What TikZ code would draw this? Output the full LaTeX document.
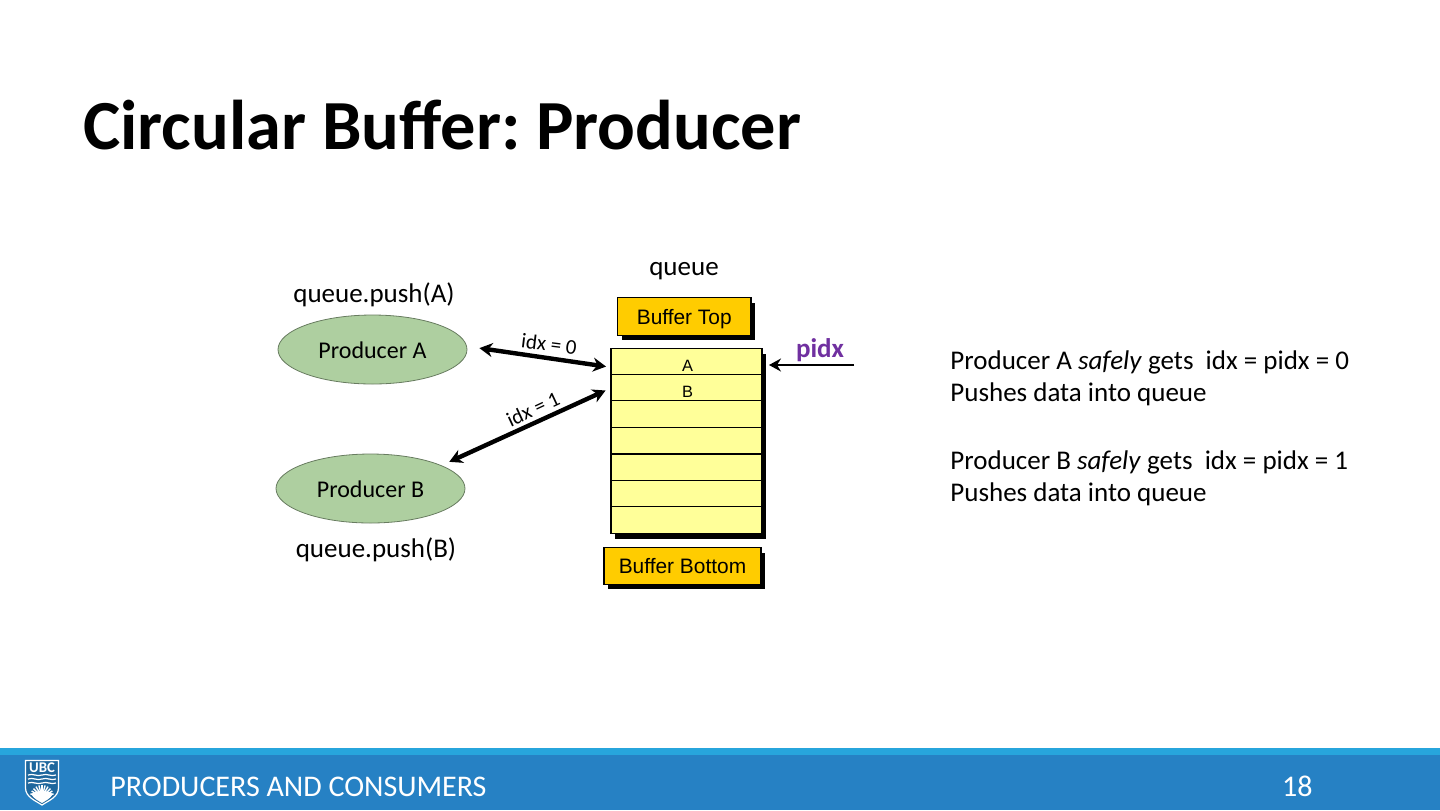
\documentclass[tikz,border=0pt]{standalone}
\usepackage{fontspec}
\setmainfont{Carlito}
\newfontfamily\arialfont{Liberation Sans}
\usetikzlibrary{positioning,arrows.meta,fit,backgrounds,calc,shadows,shapes.geometric}
\definecolor{ubcblue}{HTML}{2681C4}
\definecolor{ubclight}{HTML}{27A5DC}
\definecolor{prodgreen}{HTML}{AECFA0}
\definecolor{celly}{HTML}{FFFF99}
\definecolor{gold}{HTML}{FFCC00}
\definecolor{pidxc}{HTML}{7030A0}
\frenchspacing
\begin{document}
\begin{tikzpicture}[x=.5pt, y=-.5pt,
  prod/.style={ellipse, draw=prodgreen!60!black, fill=prodgreen, line width=.4pt, outer sep=0pt,
               minimum width=94.5pt, minimum height=34.5pt, inner sep=0pt, text height=8.8pt, text depth=0pt,
               font=\fontsize{12}{14}\selectfont},
  cellbox/.style={draw=black, fill=celly, line width=.65pt, outer sep=0pt, inner sep=0pt,
                  minimum width=75.5pt, minimum height=13.25pt, text height=9pt, text depth=0pt,
                  font=\arialfont\fontsize{8.2}{9}\selectfont},
  bufbox/.style={draw=black, fill=gold, line width=.6pt, outer sep=0pt, inner sep=0pt,
                 text height=7.6pt, text depth=0pt, font=\arialfont\fontsize{10.45}{12}\selectfont,
                 drop shadow={fill=black, opacity=1, shadow xshift=2.2pt, shadow yshift=-2.6pt}},
  lbl/.style={font=\fontsize{13.5}{16}\selectfont, inner sep=0pt},
  idxl/.style={font=\fontsize{10.5}{12}\selectfont, inner sep=0pt},
  body/.style={anchor=north west, align=left, inner sep=0pt, font=\fontsize{13.5}{16}\selectfont},
  dbl/.style={{Stealth[length=6.5pt,width=7pt]}-{Stealth[length=6.5pt,width=7pt]}, line width=2.2pt},
  ptr/.style={-{Stealth[length=6pt,width=6.5pt,inset=2pt]}, line width=.8pt},
  foot/.style={text=white, inner sep=0pt, font=\fontsize{15}{18}\selectfont}]
\useasboundingbox (0,0) rectangle (1440,810);
\node[anchor=base west, inner sep=0pt, font=\bfseries\fontsize{35.2}{42}\selectfont] (title) at (83,149) {Circular Buffer: Producer};

\node[lbl] (queue) at (684,271) {queue};
\node[lbl] (pushA) at (374,295) {queue.push(A)};
\node[lbl] (pushB) at (376,550) {queue.push(B)};
\node[prod] (prodA) at (372.5,349.5) {Producer A};
\node[prod] (prodB) at (370.5,488.5) {Producer B};

\node[bufbox, minimum width=66.75pt, minimum height=18.75pt] (bufTop) at (684.25,316.5) {Buffer Top};
\node[bufbox, minimum width=78.5pt, minimum height=18.25pt] (bufBot) at (682.5,566) {Buffer Bottom};

\foreach \n/\y/\l in {cellA/362/A, cellB/388/B, cellC/414/{}, cellD/440.5/{}, cellE/467.5/{}, cellF/494/{}, cellG/520/{}}
  \node[cellbox] (\n) at (686.5,\y) {\hspace{1pt}\l};
\begin{scope}[on background layer]
  \node[fit=(cellA)(cellG), inner sep=0pt, fill=black,
        drop shadow={fill=black, opacity=1, shadow xshift=2.2pt, shadow yshift=-2.8pt}] (stack) {};
\end{scope}

\draw[dbl, shorten <=6.5pt, shorten >=2.5pt] (prodA.2) -- (cellA.184);
\draw[dbl, shorten <=3pt, shorten >=4.5pt] (cellB.west) -- (prodB.18);
\node[idxl, rotate=-7] (idxA) at (549,344) {idx = 0};
\node[idxl, rotate=25] (idxB) at (533,409) {idx = 1};

\node[inner sep=0pt, text=pidxc, font=\bfseries\fontsize{13.5}{16}\selectfont] (pidx) at (820,350) {pidx};
\coordinate (pidxEnd) at (854,365);
\draw[ptr, shorten >=3.5pt] (pidxEnd) -- (pidxEnd -| cellA.east);

\node[body] (textA) at (950,350) {Producer A \textit{safely} gets\ \ idx = pidx = 0\\Pushes data into queue};
\node[body] (textB) at (950,450) {Producer B \textit{safely} gets\ \ idx = pidx = 1\\Pushes data into queue};

\fill[ubclight] (0,748) rectangle (1440,755);
\fill[ubcblue] (0,755) rectangle (1440,810);
\node[foot, anchor=west] (section) at (110,787) {PRODUCERS AND CONSUMERS};
\node[foot, anchor=east] (page) at (1313,786) {18};

\draw[white, line width=.6pt, fill=ubcblue!80!black] (25.5,760.5) -- (58.5,760.5) -- (58.5,788)
  .. controls (58.5,797) and (48,801) .. (42,805) .. controls (36,801) and (25.5,797) .. (25.5,788) -- cycle;
\node[text=white, inner sep=0pt, font=\bfseries\fontsize{7.4}{8}\selectfont] (crest) at (42,767.5) {UBC};
\foreach \y in {775,779,783}
  \draw[white, line width=.6pt] (28,\y) .. controls (33,\y-2) and (37,\y+2) .. (42,\y) .. controls (47,\y-2) and (51,\y+2) .. (56,\y);
\foreach \a in {15,30,...,165}
  \draw[white, line width=.7pt] (42,797) -- ++(-\a:12);
\fill[white] (31,794) .. controls (36,790) and (48,790) .. (53,794) .. controls (50,799) and (45,801) .. (42,803) .. controls (39,801) and (34,799) .. (31,794) -- cycle;
\end{tikzpicture}
\end{document}
